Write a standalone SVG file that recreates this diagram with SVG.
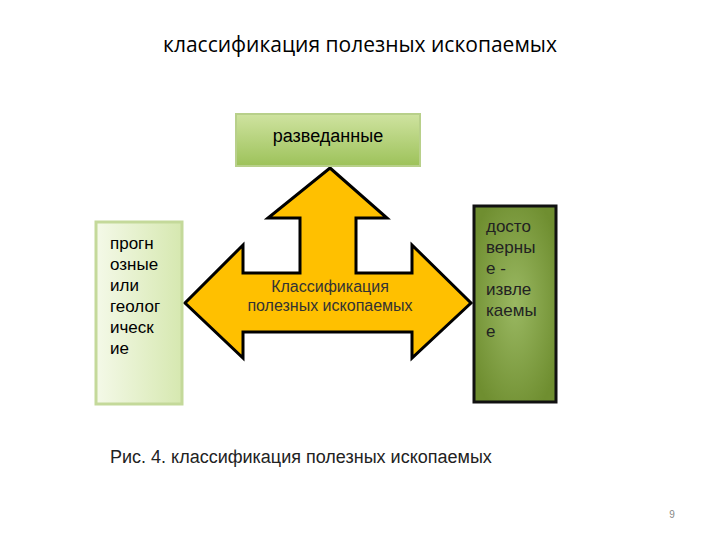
<svg xmlns="http://www.w3.org/2000/svg" width="720" height="540" viewBox="0 0 720 540">
<defs>
<linearGradient id="gTop" x1="0" y1="0" x2="0" y2="1"><stop offset="0" stop-color="#cfe3a0"/><stop offset="1" stop-color="#9dc25a"/></linearGradient>
<linearGradient id="gLeft" x1="0" y1="0" x2="1" y2="0"><stop offset="0" stop-color="#f4f9e8"/><stop offset="1" stop-color="#d6e8b0"/></linearGradient>
<radialGradient id="gRight" cx="0.5" cy="0.5" r="0.6"><stop offset="0" stop-color="#9ab862"/><stop offset="1" stop-color="#6f8e30"/></radialGradient>
<style>
text{font-family:"Liberation Sans",Arial,sans-serif;fill:#000}
.lbl{font-size:18px}
.side{font-size:17px}
</style>
</defs>
<rect width="720" height="540" fill="#fff"/>
<text x="360" y="52" text-anchor="middle" style="font-family:'Open Sans','DejaVu Sans',sans-serif;font-size:21px">классификация полезных ископаемых</text>
<g id="arrow">
<path d="M330,168 L387,218 L356,218 L356,273 L412,273 L412,245 L471,303 L412,358 L412,332 L243,332 L243,358 L185,303 L243,245 L243,273 L300,273 L300,218 L268,218 Z" fill="#ffc000" stroke="#000" stroke-width="3" stroke-linejoin="miter"/>
<text x="330" y="292" text-anchor="middle" style="font-size:16px;fill:#333">Классификация</text>
<text x="330" y="311" text-anchor="middle" style="font-size:16px;fill:#333">полезных ископаемых</text>
</g>
<g id="top">
<rect x="236" y="114" width="184" height="52" fill="url(#gTop)" stroke="#b8d08a" stroke-width="2"/>
<text x="328" y="142" text-anchor="middle" class="lbl">разведанные</text>
</g>
<g id="left">
<rect x="96" y="222" width="86" height="182" fill="url(#gLeft)" stroke="#c4d99a" stroke-width="3"/>
<text class="side" x="110" y="249">прогн</text>
<text class="side" x="110" y="270">озные</text>
<text class="side" x="110" y="291">или</text>
<text class="side" x="110" y="312">геолог</text>
<text class="side" x="110" y="333">ическ</text>
<text class="side" x="110" y="354">ие</text>
</g>
<g id="right">
<rect x="474" y="206" width="82" height="196" fill="url(#gRight)" stroke="#111" stroke-width="3"/>
<text class="side" x="486" y="232" style="fill:#222">досто</text>
<text class="side" x="486" y="253" style="fill:#222">верны</text>
<text class="side" x="486" y="274" style="fill:#222">е -</text>
<text class="side" x="486" y="295" style="fill:#222">извле</text>
<text class="side" x="486" y="316" style="fill:#222">каемы</text>
<text class="side" x="486" y="337" style="fill:#222">е</text>
</g>
<g id="connectors"/>
<text x="110" y="463" style="font-size:18px;fill:#222">Рис. 4.  классификация полезных ископаемых</text>
<text x="672" y="518" text-anchor="middle" style="font-size:10px;fill:#888">9</text>
</svg>
